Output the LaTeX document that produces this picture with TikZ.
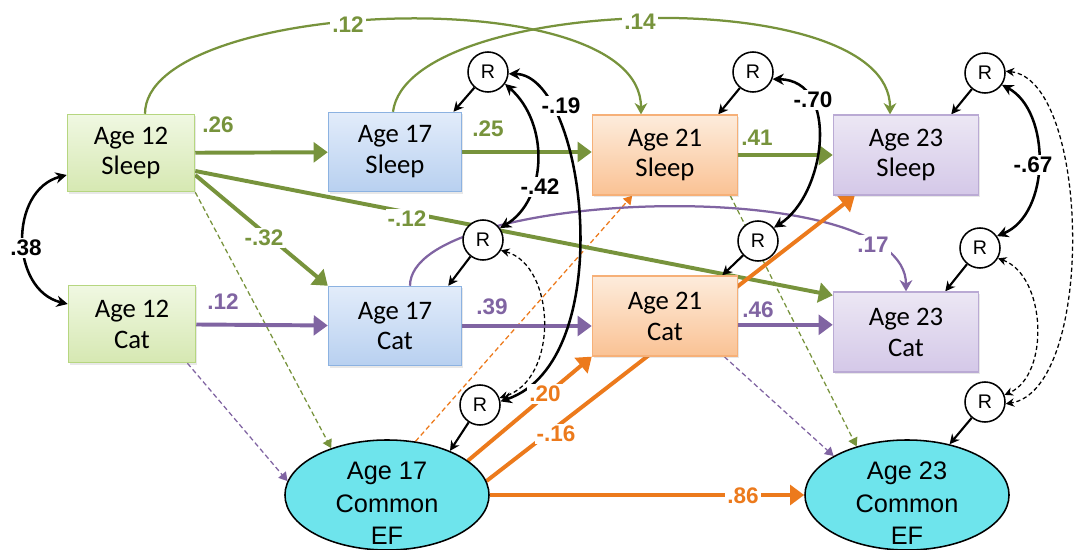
\documentclass[tikz,border=0pt]{standalone}
\usepackage{fontspec}
\setmainfont{Liberation Sans}
\newfontfamily\boxfont{Carlito}
\usetikzlibrary{arrows.meta,shapes.geometric,backgrounds,shadows}
\definecolor{sleepgreen}{HTML}{77933C}
\definecolor{catpurple}{HTML}{8064A2}
\definecolor{eforange}{HTML}{EC7A1C}
\definecolor{efcyan}{HTML}{6EE4EC}
\tikzset{
  box/.style={draw, line width=0.9pt, align=center,
    font=\boxfont\fontsize{19}{22}\selectfont,
    drop shadow={opacity=0.18, shadow xshift=0.04cm, shadow yshift=-0.05cm}},
  box12/.style={box, draw={rgb,255:red,182;green,214;blue,128}, top color={rgb,255:red,240;green,248;blue,226}, bottom color={rgb,255:red,214;green,232;blue,178},
    minimum width=3.18cm, minimum height=1.93cm},
  box17/.style={box, draw={rgb,255:red,140;green,178;blue,225}, top color={rgb,255:red,226;green,236;blue,250}, bottom color={rgb,255:red,184;green,208;blue,240},
    minimum width=3.33cm, minimum height=1.98cm},
  box21/.style={box, draw={rgb,255:red,246;green,176;blue,120}, top color={rgb,255:red,253;green,236;blue,220}, bottom color={rgb,255:red,250;green,194;blue,148},
    minimum width=3.63cm, minimum height=2cm},
  box23/.style={box, draw={rgb,255:red,186;green,170;blue,212}, top color={rgb,255:red,236;green,231;blue,244}, bottom color={rgb,255:red,212;green,200;blue,232},
    minimum width=3.63cm, minimum height=2cm},
  efnode/.style={ellipse, draw, line width=1.1pt, fill=efcyan, minimum width=5.1cm, minimum height=2.75cm, inner sep=0pt},
  eftext/.style={align=center, font=\fontsize{18}{23}\selectfont, inner sep=0pt},
  resid/.style={circle, draw, line width=1.1pt, fill=white, minimum size=1cm, inner sep=0pt, font=\fontsize{14}{14}\selectfont},
  coef/.style={font=\bfseries\fontsize{16}{16}\selectfont, fill=white, inner sep=1.5pt},
  sleeparr/.style={sleepgreen, line width=2.8pt, -{Triangle[length=10pt,width=14pt]}},
  catarr/.style={catpurple, line width=2.8pt, -{Triangle[length=10pt,width=14pt]}},
  efarr/.style={eforange, line width=2.8pt, -{Triangle[length=10pt,width=14pt]}},
  thinarc/.style={line width=1.6pt, -{Stealth[length=8pt,width=9pt,inset=2.5pt]}},
  dline/.style={line width=0.9pt, dash pattern=on 3.5pt off 2.2pt, -{Triangle[length=6pt,width=7pt]}},
  rarr/.style={line width=1.5pt, -{Stealth[length=7pt,width=7pt]}},
  cov/.style={line width=1.8pt, {Stealth[length=8pt,width=8pt]}-{Stealth[length=8pt,width=8pt]}},
  dcov/.style={line width=0.9pt, dash pattern=on 3pt off 2pt, {Stealth[length=6pt,width=6pt]}-{Stealth[length=6pt,width=6pt]}}
}
\begin{document}
\begin{tikzpicture}[x=0.025cm,y=-0.025cm]
\useasboundingbox (0,0) rectangle (1076,550);
%箱
\node[box12] (s12) at (131,153) {Age 12\\Sleep};
\node[box12] (c12) at (132,324) {Age 12\\Cat};
\node[box17] (s17) at (395,152) {Age 17\\Sleep};
\node[box17] (c17) at (395,326) {Age 17\\Cat};
\node[box21] (s21) at (665,155) {Age 21\\Sleep};
\node[box21] (c21) at (665,316) {Age 21\\Cat};
\node[box23] (s23) at (906,155) {Age 23\\Sleep};
\node[box23] (c23) at (906,332) {Age 23\\Cat};
\node[efnode] (ef17) at (387,495) {};
\node[efnode] (ef23) at (907,495) {};
\node[eftext] (ef17t) at ([yshift=-0.21cm]ef17.center) {Age 17\\Common\\EF};
\node[eftext] (ef23t) at ([yshift=-0.21cm]ef23.center) {Age 23\\Common\\EF};
%残差
\node[resid] (r17s) at (488,72) {R};
\node[resid] (r17c) at (483,240) {R};
\node[resid] (r17e) at (480,405) {R};
\node[resid] (r21s) at (753,72) {R};
\node[resid] (r21c) at (758,241) {R};
\node[resid] (r23s) at (985,73) {R};
\node[resid] (r23c) at (980,248) {R};
\node[resid] (r23e) at (985,402) {R};
\begin{scope}[on background layer]
%点線
\draw[dline, sleepgreen] (s12.south east) -- (ef17.140);
\draw[dline, catpurple] ([xshift=-0.22cm]c12.south east) -- (ef17.172);
\draw[dline, eforange] (ef17.62) -- ([xshift=-0.82cm]s21.south);
\draw[dline, sleepgreen] ([xshift=-0.2cm]s21.south east) -- (ef23.136);
\draw[dline, catpurple] ([xshift=-0.35cm]c21.south east) -- (ef23.152);
%曲線
\draw[thinarc, sleepgreen] ([xshift=0.35cm]s12.north) .. controls +(0,-115) and +(0,-137) .. ([xshift=-0.6cm]s21.north);
\draw[thinarc, sleepgreen] ([xshift=-0.05cm]s17.north) .. controls +(15,-117) and +(0,-134) .. ([xshift=-0.4cm]s23.north);
\draw[thinarc, catpurple] ([xshift=0.375cm]c17.north) .. controls +(0,-97) and +(0,-120) .. (c23.north);
%太い矢印
\draw[sleeparr] (s12) -- (s17);
\draw[sleeparr] (s17.east) -- (s17.east -| s21.west);
\draw[sleeparr] (s21.east) -- (s21.east -| s23.west);
\draw[sleeparr] ([yshift=-0.55cm]s12.east) -- (c17.north west);
\draw[sleeparr] ([yshift=-0.45cm]s12.east) -- ([yshift=-0.1cm]c23.north west);
\draw[catarr] (c12) -- (c17);
\draw[catarr] (c17.east) -- (c17.east -| c21.west);
\draw[catarr] ([yshift=-0.22cm]c21.east) -- ([yshift=-0.22cm]c21.east -| c23.west);
\draw[efarr] (ef17) -- (ef23);
\draw[efarr] (ef17.23) -- (c21.south west);
\draw[efarr] (ef17.8) -- ([xshift=-1.28cm]s23.south);
%残差の矢印
\draw[rarr] (r17s) -- ([xshift=-0.22cm]s17.north east);
\draw[rarr] (r17c) -- ([xshift=-0.35cm]c17.north east);
\draw[rarr] (r17e) -- (ef17.35);
\draw[rarr] (r21s) -- ([xshift=-0.5cm]s21.north east);
\draw[rarr] (r21c) -- ([xshift=-0.4cm]c21.north east);
\draw[rarr] (r23s) -- ([xshift=-0.7cm]s23.north east);
\draw[rarr] (r23c) -- ([xshift=-0.85cm]c23.north east);
\draw[rarr] (r23e) -- (ef23.50);
%共分散
\draw[cov] ([yshift=-0.55cm]s12.west) .. controls +(-58,15) and +(-58,-14) .. ([yshift=0.5cm]c12.west);
\draw[cov] (r17s.-35) .. controls +(45,40) and +(47,-28) .. (r17c.35);
\draw[cov] (r17s.-5) .. controls +(77,1) and +(120,-41) .. (r17e.10);
\draw[dcov] (r17c.-30) .. controls +(55,15) and +(60,-18) .. (r17e.20);
\draw[cov] (r21s.-20) .. controls +(68,1) and +(52,-33) .. (r21c.40);
\draw[cov] (r23s.-35) .. controls +(49,26) and +(54,-22) .. (r23c.35);
\draw[dcov] (r23c.-30) .. controls +(48,17) and +(46,-20) .. (r23e.20);
\draw[dcov] (r23s.5) .. controls +(85,9) and +(90,-14) .. (r23e.-5);
\end{scope}
%係数
\node[coef, text=sleepgreen] (l26) at (218,125) {.26};
\node[coef, text=sleepgreen] (l25) at (488,129) {.25};
\node[coef, text=sleepgreen] (l41) at (757,138) {.41};
\node[coef, text=sleepgreen] (l32) at (264,238) {-.32};
\node[coef, text=sleepgreen] (l12b) at (407,219) {-.12};
\node[coef, text=sleepgreen] (l12a) at (348,25) {.12};
\node[coef, text=sleepgreen] (l14) at (640,22) {.14};
\node[coef, text=catpurple] (l12c) at (223,302) {.12};
\node[coef, text=catpurple] (l39) at (492,307) {.39};
\node[coef, text=catpurple] (l46) at (758,310) {.46};
\node[coef, text=catpurple] (l17) at (873,245) {.17};
\node[coef, text=eforange] (l20) at (545,394) {.20};
\node[coef, text=eforange] (l16) at (556,434) {-.16};
\node[coef, text=eforange] (l86) at (743,496) {.86};
\node[coef] (l38) at (26,248) {.38};
\node[coef] (l42) at (540,187) {-.42};
\node[coef] (l19) at (561,106) {-.19};
\node[coef] (l70) at (813,100) {-.70};
\node[coef] (l67) at (1033,165) {-.67};
\end{tikzpicture}
\end{document}
